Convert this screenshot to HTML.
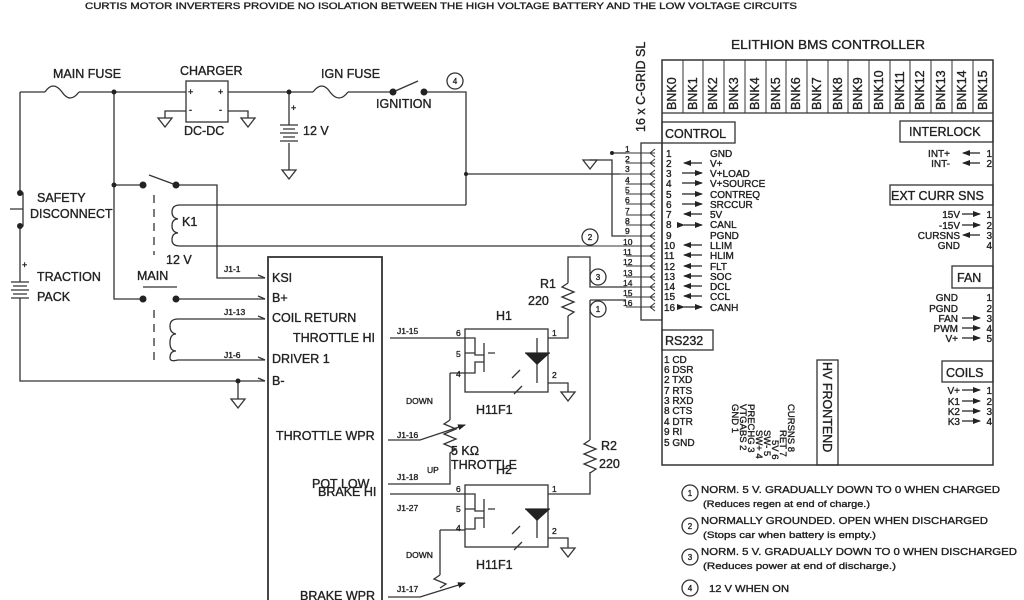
<!DOCTYPE html>
<html><head><meta charset="utf-8"><style>
html,body{margin:0;padding:0;background:#fff}
svg{display:block}
text{font-family:"Liberation Sans",sans-serif;fill:#222;stroke:#222;stroke-width:0.35}
</style></head><body>
<svg width="1024" height="600" viewBox="0 0 1024 600" xmlns="http://www.w3.org/2000/svg">
<defs>
<marker id="ar" markerWidth="8" markerHeight="8" refX="7" refY="4" orient="auto" markerUnits="userSpaceOnUse"><path d="M0,1 L8,4 L0,7 z" fill="#222"/></marker>
<g id="gnd"><path d="M-7,0 L7,0 L0,9 z" fill="none" stroke="#333" stroke-width="1.3"/></g>
</defs>
<text x="85" y="9" font-size="9.5" textLength="712" lengthAdjust="spacingAndGlyphs">CURTIS MOTOR INVERTERS PROVIDE NO ISOLATION BETWEEN THE  HIGH VOLTAGE BATTERY AND THE LOW VOLTAGE CIRCUITS</text>
<g stroke="#333" stroke-width="1.3" fill="none">
<path d="M20,92 H45 M79,92 H186 M228,92 H313 M348,92 H393 M424,92 H466 V205"/>
<path d="M45,92 q8,-12 17,0 q8,12 17,0"/>
<path d="M313,92 q9,-12 17,0 q9,12 18,0"/>
<path d="M393,92 L418,81"/>
<rect x="186" y="81" width="42" height="41"/>
<path d="M186,111 H165 V118 M228,111 H248 V118"/>
<path d="M289,92 V125 M289,143 V170"/>
<path d="M280,125 H298 M283,129 H295 M280,133 H298 M283,137 H295 M280,141 H298"/>
<path d="M20,92 V193 M20,226 V282 M20,298 V381 H265"/>
<path d="M20,193 H23 V226 H20 M10,209 H23"/>
<path d="M11,282 H29 M13,286 H27 M11,290 H29 M13,294 H27 M11,298 H29"/>
<path d="M114,92 V299 H143 M176,299 H265 M143,287 H177"/>
<path d="M114,185 H143 M149,175 L176,185 M176,185 H217 V278 H265"/>
<path d="M154,195 V255 M154,310 V362" stroke-dasharray="8,6"/>
<path d="M466,205 H180 q-8,0 -8,7 q0,6 6,7 q-6,0 -6,7 q0,6 6,7 q-6,0 -6,7 q0,6 8,6 H580"/>
<path d="M466,174 H620"/>
<path d="M265,319 H178 q-8,0 -8,7 q0,7 6,8 q-6,0 -6,9 q0,8 6,8 q-6,0 -6,7 q0,4 8,2 H265"/>
<path d="M238,381 V399"/>
<path d="M258,275 l7,3 M258,296 l7,3 M258,316 l7,3 M258,357 l7,3 M258,378 l7,3"/>
<rect x="268" y="257" width="114" height="360" stroke-width="1.8"/>
<rect x="465" y="329" width="83" height="63"/>
<rect x="465" y="485" width="83" height="62"/>
<path d="M390,338 H475 V355 H484 M465,353 H475 M465,373 H475 V362 H484 M484,343 V372 M488,353 H495"/>
<path d="M390,494 H475 V511 H484 M465,509 H475 M465,529 H475 V518 H484 M484,499 V528 M488,509 H495"/>
<path d="M548,338 H568 V316 M568,283 V257 H590 V287 H626 M590,300 H626 M590,300 V440 M590,472 V494 H548"/>
<path d="M568,283 l-6,4 l12,5 l-12,5 l12,5 l-12,5 l12,5 l-6,4"/>
<path d="M590,440 l-6,4 l12,5 l-12,5 l12,5 l-12,5 l12,5 l-6,4"/>
<path d="M537,338 V383 M525,353 H550 M537,509 V538 M525,509 H550 M548,383 H568 V392 M548,538 H568 V548"/>
<path d="M450,373 H465 M440,530 H465"/>
<path d="M450,373 V420 M440,530 V575"/>
<path d="M450,420 l-6,4 l12,5 l-12,5 l12,5 l-12,5 l12,5 l-6,4 V484 H388"/>
<path d="M388,440 H420 L465,425" marker-end="url(#ar)"/>
<path d="M388,597 H420 L465,583" marker-end="url(#ar)"/>
<path d="M440,575 l-6,4 l12,5 l-6,4"/>
<path d="M520,370 l-8,8 M522,386 l-8,8"/>
<path d="M520,526 l-8,8 M522,542 l-8,8"/>
<rect x="641" y="143" width="21" height="177"/>
<path d="M590,160 H612 V236 H626 M612,153 H626"/>
<rect x="662" y="60" width="331" height="405" stroke-width="1.5"/>
<path d="M662,113 H993"/>
<rect x="662" y="122" width="73" height="21"/>
<rect x="900" y="121" width="93" height="21"/>
<rect x="890" y="185" width="103" height="20"/>
<rect x="952" y="266" width="41" height="22"/>
<rect x="662" y="330" width="51" height="20"/>
<rect x="942" y="361" width="51" height="21"/>
<rect x="817" y="360" width="21" height="105"/>
</g>
<g fill="#222">
<circle cx="114" cy="92" r="2.5"/><circle cx="289" cy="92" r="2.5"/><circle cx="393" cy="92" r="3.5"/><circle cx="424" cy="92" r="3.5"/>
<circle cx="114" cy="185" r="2.5"/><circle cx="143" cy="185" r="3.5"/><circle cx="176" cy="185" r="3.5"/>
<circle cx="143" cy="299" r="3.5"/><circle cx="176" cy="299" r="3.5"/><circle cx="20" cy="193" r="3"/><circle cx="20" cy="226" r="3"/>
<circle cx="466" cy="174" r="2"/><circle cx="238" cy="381" r="2.5"/><circle cx="612" cy="153" r="2"/>
<path d="M525,353 L550,353 L537,365 z M525,509 L550,509 L537,521 z"/>
</g>
<use href="#gnd" x="165" y="118"/><use href="#gnd" x="248" y="118"/><use href="#gnd" x="289" y="170"/>
<use href="#gnd" x="238" y="399"/><use href="#gnd" x="568" y="392"/><use href="#gnd" x="568" y="548"/><use href="#gnd" x="590" y="160"/>
<g fill="none" stroke="#333" stroke-width="1.3">
<circle cx="455" cy="81" r="8"/><circle cx="590" cy="237" r="8"/><circle cx="598" cy="277" r="8"/><circle cx="598" cy="309" r="8"/>
<circle cx="690" cy="493" r="8"/><circle cx="690" cy="526" r="8"/><circle cx="690" cy="557" r="8"/><circle cx="690" cy="588" r="8"/>
</g>
<g font-size="8" text-anchor="middle"><text x="455" y="84">4</text><text x="590" y="240">2</text><text x="598" y="280">3</text><text x="598" y="312">1</text>
<text x="690" y="496">1</text><text x="690" y="529">2</text><text x="690" y="560">3</text><text x="690" y="591">4</text></g>
<g font-size="9"><text x="188" y="95">+</text><text x="218" y="95">+</text><text x="189" y="113">-</text><text x="219" y="113">-</text><text x="291" y="111">+</text><text x="22" y="268">+</text></g>
<g font-size="12.5">
<text x="53" y="78">MAIN FUSE</text><text x="180" y="75">CHARGER</text><text x="321" y="78">IGN FUSE</text>
<text x="184" y="135">DC-DC</text><text x="303" y="135">12 V</text><text x="376" y="108">IGNITION</text>
<text x="37" y="202">SAFETY</text><text x="30" y="218">DISCONNECT</text><text x="182" y="226">K1</text>
<text x="37" y="281">TRACTION</text><text x="37" y="301">PACK</text><text x="166" y="264">12 V</text><text x="137" y="280">MAIN</text>
<text x="272" y="282">KSI</text><text x="272" y="302">B+</text><text x="272" y="322">COIL RETURN</text><text x="293" y="342">THROTTLE HI</text>
<text x="272" y="363">DRIVER 1</text><text x="272" y="385">B-</text><text x="276" y="440">THROTTLE WPR</text>
<text x="312" y="488">POT LOW</text><text x="318" y="496">BRAKE HI</text><text x="300" y="600">BRAKE WPR</text>
<text x="540" y="288">R1</text><text x="528" y="305">220</text><text x="496" y="320">H1</text>
<text x="476" y="414">H11F1</text><text x="476" y="569">H11F1</text><text x="451" y="455">5 KΩ</text><text x="451" y="469">THROTTLE</text><text x="496" y="474">H2</text>
<text x="601" y="450">R2</text><text x="599" y="468">220</text>
<text x="731" y="49" font-size="13" textLength="194" lengthAdjust="spacingAndGlyphs">ELITHION BMS CONTROLLER</text>
</g>
<g font-size="8.5"><text x="224" y="272">J1-1</text><text x="224" y="315">J1-13</text><text x="224" y="358">J1-6</text>
<text x="397" y="334">J1-15</text><text x="397" y="438">J1-16</text><text x="397" y="480">J1-18</text><text x="427" y="473">UP</text><text x="397" y="511">J1-27</text><text x="397" y="592">J1-17</text>
<text x="406" y="404">DOWN</text><text x="406" y="558">DOWN</text>
<text x="456" y="336">6</text><text x="456" y="357">5</text><text x="456" y="377">4</text><text x="552" y="336">1</text><text x="552" y="378">2</text>
<text x="456" y="492">6</text><text x="456" y="512">5</text><text x="456" y="531">4</text><text x="552" y="492">1</text><text x="552" y="534">2</text></g>
<g font-size="12.5">
<text transform="translate(676,110) rotate(-90)">BNK0</text><text transform="translate(697,110) rotate(-90)">BNK1</text><text transform="translate(717,110) rotate(-90)">BNK2</text><text transform="translate(738,110) rotate(-90)">BNK3</text><text transform="translate(759,110) rotate(-90)">BNK4</text><text transform="translate(780,110) rotate(-90)">BNK5</text><text transform="translate(800,110) rotate(-90)">BNK6</text><text transform="translate(821,110) rotate(-90)">BNK7</text><text transform="translate(842,110) rotate(-90)">BNK8</text><text transform="translate(862,110) rotate(-90)">BNK9</text><text transform="translate(883,110) rotate(-90)">BNK10</text><text transform="translate(904,110) rotate(-90)">BNK11</text><text transform="translate(924,110) rotate(-90)">BNK12</text><text transform="translate(945,110) rotate(-90)">BNK13</text><text transform="translate(966,110) rotate(-90)">BNK14</text><text transform="translate(987,110) rotate(-90)">BNK15</text>
<text transform="translate(645,132) rotate(-90)">16 x C-GRID SL</text>
<text transform="translate(823,362) rotate(90)">HV FRONTEND</text>
<text x="665" y="138">CONTROL</text><text x="909" y="136">INTERLOCK</text><text x="891" y="200">EXT CURR SNS</text><text x="957" y="282">FAN</text><text x="665" y="345">RS232</text><text x="946" y="377">COILS</text>
</g>
<g stroke="#333" stroke-width="1" fill="none">
<path d="M683,60 V113 M703,60 V113 M724,60 V113 M745,60 V113 M766,60 V113 M786,60 V113 M807,60 V113 M828,60 V113 M848,60 V113 M869,60 V113 M890,60 V113 M910,60 V113 M931,60 V113 M952,60 V113 M973,60 V113"/>
</g>
<g font-size="10">
<text x="666" y="157">1</text><text x="710" y="157">GND</text>
<text x="666" y="167">2</text><text x="710" y="167">V+</text>
<text x="666" y="177">3</text><text x="710" y="177">V+LOAD</text>
<text x="666" y="187">4</text><text x="710" y="187">V+SOURCE</text>
<text x="666" y="198">5</text><text x="710" y="198">CONTREQ</text>
<text x="666" y="208">6</text><text x="710" y="208">SRCCUR</text>
<text x="666" y="218">7</text><text x="710" y="218">5V</text>
<text x="666" y="228">8</text><text x="710" y="228">CANL</text>
<text x="666" y="239">9</text><text x="710" y="239">PGND</text>
<text x="664" y="249">10</text><text x="710" y="249">LLIM</text>
<text x="664" y="259">11</text><text x="710" y="259">HLIM</text>
<text x="664" y="270">12</text><text x="710" y="270">FLT</text>
<text x="664" y="280">13</text><text x="710" y="280">SOC</text>
<text x="664" y="290">14</text><text x="710" y="290">DCL</text>
<text x="664" y="300">15</text><text x="710" y="300">CCL</text>
<text x="664" y="311">16</text><text x="710" y="311">CANH</text>
</g>
<g stroke="#222" stroke-width="1.2">
<path d="M702,163 H684" marker-end="url(#ar)"/><path d="M682,173 H702" marker-end="url(#ar)"/><path d="M682,183 H702" marker-end="url(#ar)"/><path d="M682,194 H702" marker-end="url(#ar)"/><path d="M682,204 H702" marker-end="url(#ar)"/><path d="M702,214 H684" marker-end="url(#ar)"/><path d="M684,225 H702" marker-end="url(#ar)" marker-start="url(#ar)"/>
<path d="M702,245 H684" marker-end="url(#ar)"/><path d="M702,255 H684" marker-end="url(#ar)"/><path d="M702,266 H684" marker-end="url(#ar)"/><path d="M702,276 H684" marker-end="url(#ar)"/><path d="M702,286 H684" marker-end="url(#ar)"/><path d="M702,296 H684" marker-end="url(#ar)"/><path d="M684,307 H702" marker-end="url(#ar)" marker-start="url(#ar)"/>
<path d="M980,153 H963" marker-end="url(#ar)"/><path d="M980,163 H963" marker-end="url(#ar)"/>
<path d="M962,214 H980" marker-end="url(#ar)"/><path d="M962,225 H980" marker-end="url(#ar)"/><path d="M980,235 H963" marker-end="url(#ar)"/>
<path d="M962,318 H980" marker-end="url(#ar)"/><path d="M962,328 H980" marker-end="url(#ar)"/><path d="M962,338 H980" marker-end="url(#ar)"/>
<path d="M962,390 H980" marker-end="url(#ar)"/><path d="M962,401 H980" marker-end="url(#ar)"/><path d="M962,411 H980" marker-end="url(#ar)"/><path d="M962,421 H980" marker-end="url(#ar)"/>
</g>
<g stroke="#333" stroke-width="1" fill="none">
<path d="M626,153 H655 M626,163 H655 M620,174 H655 M626,184 H655 M626,194 H655 M626,204 H655 M626,215 H655 M626,225 H655 M626,236 H655 M580,246 H655 M626,256 H655 M626,266 H655 M626,277 H655 M626,287 H655 M626,297 H655 M626,307 H655"/>
<path d="M655,149 l-5,4 l5,4 M655,159 l-5,4 l5,4 M655,170 l-5,4 l5,4 M655,180 l-5,4 l5,4 M655,190 l-5,4 l5,4 M655,200 l-5,4 l5,4 M655,211 l-5,4 l5,4 M655,221 l-5,4 l5,4 M655,232 l-5,4 l5,4 M655,242 l-5,4 l5,4 M655,252 l-5,4 l5,4 M655,262 l-5,4 l5,4 M655,273 l-5,4 l5,4 M655,283 l-5,4 l5,4 M655,293 l-5,4 l5,4 M655,303 l-5,4 l5,4"/>
</g>
<g font-size="8.5"><text x="625" y="152">1</text><text x="625" y="162">2</text><text x="625" y="172">3</text><text x="625" y="183">4</text><text x="625" y="193">5</text><text x="625" y="203">6</text><text x="625" y="214">7</text><text x="625" y="224">8</text><text x="625" y="234">9</text><text x="623" y="245">10</text><text x="623" y="255">11</text><text x="623" y="265">12</text><text x="623" y="276">13</text><text x="623" y="286">14</text><text x="623" y="296">15</text><text x="623" y="306">16</text></g>
<g font-size="10" text-anchor="end">
<text x="950" y="157">INT+</text><text x="950" y="167">INT-</text><text x="992" y="157">1</text><text x="992" y="167">2</text>
<text x="960" y="218">15V</text><text x="960" y="229">-15V</text><text x="960" y="239">CURSNS</text><text x="960" y="249">GND</text><text x="992" y="218">1</text><text x="992" y="229">2</text><text x="992" y="239">3</text><text x="992" y="249">4</text>
<text x="958" y="301">GND</text><text x="958" y="312">PGND</text><text x="958" y="322">FAN</text><text x="958" y="332">PWM</text><text x="958" y="342">V+</text>
<text x="992" y="301">1</text><text x="992" y="312">2</text><text x="992" y="322">3</text><text x="992" y="332">4</text><text x="992" y="342">5</text>
<text x="960" y="394">V+</text><text x="960" y="405">K1</text><text x="960" y="415">K2</text><text x="960" y="425">K3</text><text x="992" y="394">1</text><text x="992" y="405">2</text><text x="992" y="415">3</text><text x="992" y="425">4</text>
</g>
<g font-size="10"><text x="664" y="363">1 CD</text><text x="664" y="373">6 DSR</text><text x="664" y="383">2 TXD</text><text x="664" y="394">7 RTS</text><text x="664" y="404">3 RXD</text><text x="664" y="414">8 CTS</text><text x="664" y="425">4 DTR</text><text x="664" y="435">9 RI</text><text x="664" y="446">5 GND</text></g>
<g font-size="9.5">
<text transform="translate(732,404) rotate(90)">GND 1</text><text transform="translate(740,404) rotate(90)">VTGABS 2</text><text transform="translate(748,404) rotate(90)">PRECHG 3</text><text transform="translate(756,430) rotate(90)">SW+ 4</text><text transform="translate(764,430) rotate(90)">SW- 5</text><text transform="translate(772,440) rotate(90)">5V 6</text><text transform="translate(780,430) rotate(90)">RET 7</text><text transform="translate(788,404) rotate(90)">CURSNS 8</text>
</g>
<g font-size="10.5">
<text x="701" y="493" textLength="299" lengthAdjust="spacingAndGlyphs">NORM. 5 V. GRADUALLY DOWN  TO 0 WHEN CHARGED</text><text x="703" y="507" font-size="9.5" textLength="167" lengthAdjust="spacingAndGlyphs">(Reduces regen  at end of charge.)</text>
<text x="701" y="524" textLength="287" lengthAdjust="spacingAndGlyphs">NORMALLY GROUNDED. OPEN WHEN DISCHARGED</text><text x="703" y="538" font-size="9.5" textLength="173" lengthAdjust="spacingAndGlyphs">(Stops car when battery is empty.)</text>
<text x="701" y="555" textLength="316" lengthAdjust="spacingAndGlyphs">NORM. 5 V. GRADUALLY DOWN  TO 0 WHEN DISCHARGED</text><text x="703" y="569" font-size="9.5" textLength="193" lengthAdjust="spacingAndGlyphs">(Reduces power at end of discharge.)</text>
<text x="709" y="592" textLength="80" lengthAdjust="spacingAndGlyphs">12 V WHEN ON</text>
</g>
</svg>
</body></html>
